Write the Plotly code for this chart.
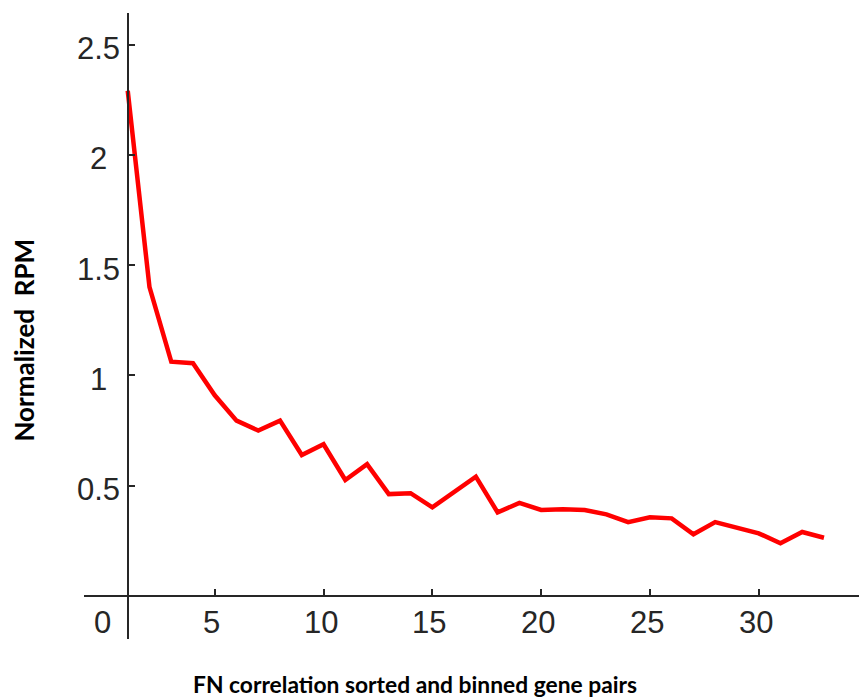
import plotly.graph_objects as go

# Binned gene pairs (sorted by FN correlation) and their normalized RPM
bins = list(range(1, 34))
rpm = [2.29, 1.40, 1.062, 1.055, 0.91, 0.795, 0.75, 0.795, 0.639, 0.688,
       0.526, 0.598, 0.462, 0.466, 0.402, 0.473, 0.541, 0.379, 0.422, 0.390,
       0.393, 0.390, 0.370, 0.335, 0.357, 0.352, 0.280, 0.335, 0.307, 0.284,
       0.239, 0.290, 0.264]

x_ticks = [5, 10, 15, 20, 25, 30]
y_ticks = [0.5, 1, 1.5, 2, 2.5]
y_tick_labels = ["0.5", "1", "1.5", "2", "2.5"]

x_range = [-1.01, 34.61]
y_range = [-0.195, 2.643]
y_axis_at = 1   # vertical axis crosses at the first bin
x_axis_at = 0   # horizontal axis crosses at RPM = 0

axis_color = "#262626"
tick_font = dict(family="Liberation Sans, Arial, sans-serif", size=31, color=axis_color)
xtitle_font = dict(family="Lato, Calibri, sans-serif", size=22.8, color="#000000")
ytitle_font = dict(family="Lato, Calibri, sans-serif", size=26, color="#000000")

fig = go.Figure()
fig.add_trace(go.Scatter(
    x=bins, y=rpm, mode="lines",
    line=dict(color="#FF0000", width=4.5),
    hoverinfo="skip", showlegend=False,
))

fig.update_layout(
    width=859, height=697,
    margin=dict(l=84, r=0, t=13, b=58),
    paper_bgcolor="white", plot_bgcolor="white",
    xaxis=dict(
        range=x_range, anchor="free",
        position=(x_axis_at - y_range[0]) / (y_range[1] - y_range[0]),
        showline=True, linecolor=axis_color, linewidth=2,
        showgrid=False, zeroline=False,
        ticks="inside", ticklen=6, tickwidth=1.5, tickcolor=axis_color,
        tickvals=x_ticks, showticklabels=False,
    ),
    yaxis=dict(
        range=y_range, anchor="free",
        position=(y_axis_at - x_range[0]) / (x_range[1] - x_range[0]),
        showline=True, linecolor=axis_color, linewidth=2,
        showgrid=False, zeroline=False,
        ticks="inside", ticklen=6, tickwidth=1.5, tickcolor=axis_color,
        tickvals=y_ticks, showticklabels=False,
    ),
)

# y tick labels, centred to the left of the vertical axis
for v, t in zip(y_ticks, y_tick_labels):
    fig.add_annotation(x=y_axis_at, y=v, xref="x", yref="y", text=t,
                       showarrow=False, xanchor="center", yanchor="middle",
                       xshift=-29, yshift=-4, font=tick_font)

# x tick labels (including the origin) below the horizontal axis
for v in [0] + x_ticks:
    fig.add_annotation(x=v, y=x_axis_at, xref="x", yref="y", text=str(v),
                       showarrow=False, xanchor="center", yanchor="middle",
                       xshift=-3, yshift=-27, font=tick_font)

# axis titles
fig.add_annotation(x=-0.078, y=0.4776, xref="paper", yref="paper",
                   text="<b>Normalized&nbsp;&nbsp;RPM</b>", textangle=-90,
                   showarrow=False, xanchor="center", yanchor="middle",
                   font=ytitle_font)
fig.add_annotation(x=0.427, y=-0.0719, xref="paper", yref="paper",
                   text="<b>FN correlation sorted and binned gene pairs</b>",
                   showarrow=False, xanchor="center", yanchor="middle",
                   font=xtitle_font)

fig.write_html("out.html")
